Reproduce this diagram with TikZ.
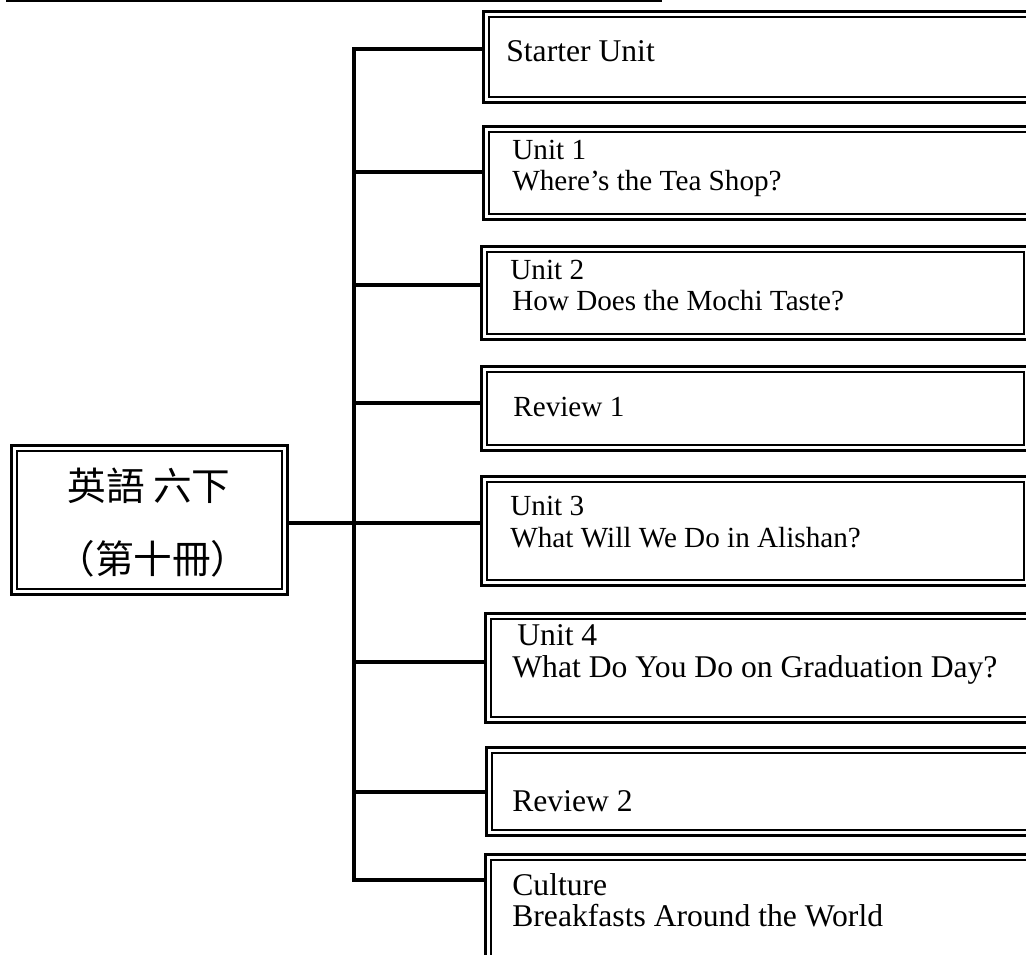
\documentclass[tikz,border=0pt]{standalone}
\usepackage{fontspec}
\setmainfont{Liberation Serif}
\newfontfamily\cjk{Noto Sans CJK TC}
\usetikzlibrary{fit}
\begin{document}
\begin{tikzpicture}[x=0.02cm, y=-0.02cm,
  frame/.style={draw, line width=1.7pt, inner sep=0, outer sep=0},
  branch/.style={line width=2pt},
  txt/.style={anchor=base west, inner sep=0, font=\fontsize{16.6}{17}\selectfont},
  bigtxt/.style={txt, font=\fontsize{18}{19}\selectfont},
  cjktxt/.style={anchor=base, inner sep=0, font=\cjk\fontsize{22}{22}\selectfont}]
  \useasboundingbox (0, 0) rectangle (1026, 955);
  \draw[line width=1.7pt] (6, 0.8) -- (662, 0.8);
  \node (main) [frame, line width=1.4pt, fit={(11.5, 445.5) (287.5, 594.5)}] {};
  \node (b1) [frame, fit={(483.5, 11.5) (1045, 102.5)}] {};
  \node (b2) [frame, fit={(483.5, 126.5) (1045, 219.5)}] {};
  \node (b3) [frame, fit={(481.5, 246.5) (1029.5, 339.5)}] {};
  \node (b4) [frame, fit={(481.5, 366.5) (1029.5, 450.5)}] {};
  \node (b5) [frame, fit={(481.5, 476.5) (1029.5, 585.5)}] {};
  \node (b6) [frame, fit={(485.5, 613.5) (1045, 722.5)}] {};
  \node (b7) [frame, fit={(486.5, 747.5) (1045, 835.5)}] {};
  \node (b8) [frame, fit={(485.5, 854.5) (1045, 975)}] {};
  \foreach \bx in {main, b1, b2, b3, b4, b5, b6, b7, b8}
    \draw[line width=1.1pt] ([shift={(5.5, 5.5)}]\bx.north west) rectangle ([shift={(-5.5, -5.5)}]\bx.south east);
  \coordinate (c1) at (354, 49);
  \coordinate (c2) at (354, 172);
  \coordinate (c3) at (354, 285);
  \coordinate (c4) at (354, 403);
  \coordinate (c5) at (354, 523);
  \coordinate (c6) at (354, 662);
  \coordinate (c7) at (354, 792);
  \coordinate (c8) at (354, 880);
  \draw[branch] (b1.west |- c1) -- (c1) -- (c8) -- (b8.west |- c8);
  \foreach \n in {2, ..., 7}
    \draw[branch] (c\n) -- (b\n.west |- c\n);
  \draw[branch] (main.east |- c5) -- (b5.west |- c5);
  \node[cjktxt] (title) at (149, 500) {英語 六下};
  \node[cjktxt] (vol) at (153, 573) {（第十冊）};
  \node[bigtxt] (t1) at (506, 62) {Starter Unit};
  \node[txt] (t2a) at (512, 160) {Unit 1};
  \node[txt] (t2b) at (512, 191) {Where's the Tea Shop?};
  \node[txt] (t3a) at (510, 280) {Unit 2};
  \node[txt] (t3b) at (512, 311) {How Does the Mochi Taste?};
  \node[txt] (t4) at (513, 417) {Review 1};
  \node[txt] (t5a) at (510, 515) {Unit 3};
  \node[txt] (t5b) at (510, 547) {What Will We Do in Alishan?};
  \node[bigtxt] (t6a) at (517, 645) {Unit 4};
  \node[bigtxt] (t6b) at (512, 677) {What Do You Do on Graduation Day?};
  \node[bigtxt] (t7) at (512, 811) {Review 2};
  \node[bigtxt] (t8a) at (512, 895) {Culture};
  \node[bigtxt] (t8b) at (512, 926) {Breakfasts Around the World};
\end{tikzpicture}
\end{document}
